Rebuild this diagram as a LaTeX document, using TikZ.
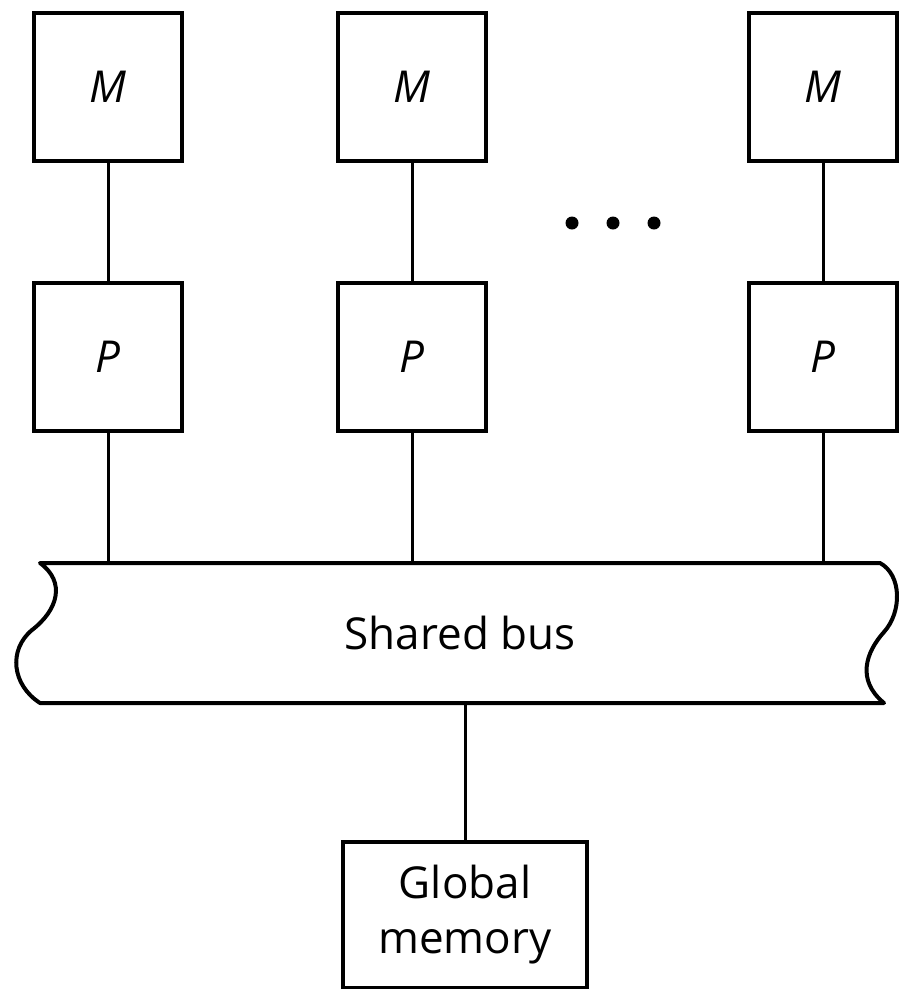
\documentclass[tikz,border=0pt]{standalone}
\usepackage{fontspec}
\setmainfont{Open Sans}
\begin{document}
\begin{tikzpicture}[x=1pt,y=-1pt,
  unit/.style={draw, line width=4pt, minimum width=148pt, minimum height=148pt,
    inner sep=0pt, font=\fontsize{44}{52}\selectfont\itshape},
  wire/.style={line width=3pt},
  label/.style={font=\fontsize{44}{55}\selectfont, align=center}]
\useasboundingbox (0,0) rectangle (898,989);

% memories
\node[unit] (m1) at (108,87) {M};
\node[unit] (m2) at (412,87) {M};
\node[unit] (m3) at (823,87) {M};
% processors
\node[unit] (p1) at (108,357) {P};
\node[unit] (p2) at (412,357) {P};
\node[unit] (p3) at (823,357) {P};

% ellipsis between the columns
\foreach \xx in {572,613,654}
  \fill (\xx,223) circle (6.5pt);

% shared bus with wavy ends
\node[label, minimum width=840pt, minimum height=140pt, inner sep=0pt]
  (bus) at (460,633) {Shared bus};
\draw[line width=4pt, line join=round]
  (40,563) -- (880,563)
  .. controls (902,575) and (902,612) .. (884,632)
  .. controls (866,652) and (856,680) .. (884,703)
  -- (40,703)
  .. controls (12,685) and (8,650) .. (32,630)
  .. controls (58,610) and (66,582) .. (40,563) -- cycle;

% global memory
\node[draw, line width=4pt, minimum width=244pt, minimum height=146pt,
  inner sep=0pt, label] (gm) at (465,915) {Global\\memory};

% connectors
\foreach \i in {1,2,3} {
  \draw[wire] (m\i.south) -- (p\i.north);
  \draw[wire] (p\i.south) -- (p\i.south |- bus.north);
}
\draw[wire] (gm.north |- bus.south) -- (gm.north);
\end{tikzpicture}
\end{document}
